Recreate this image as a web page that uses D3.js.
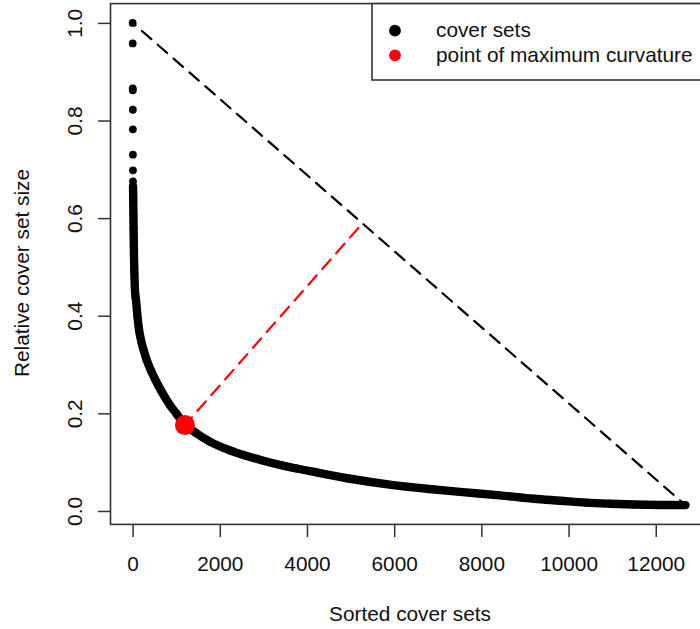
<!DOCTYPE html>
<html>
<head>
<meta charset="utf-8">
<script src="https://cdn.jsdelivr.net/npm/d3@7"></script>
<style>
  body { margin: 0; background: #fff; }
  text { font-family: "Liberation Sans", Arial, Helvetica, sans-serif; fill: #111; }
</style>
</head>
<body>
<svg id="chart"></svg>
<script>
// sorted cover sets (index) and their relative size
const coverIdx  = [1, 2, 3, 4, 5, 6, 7, 8, 9, 10, 14, 18, 22, 27, 32, 40, 50, 65, 80, 110, 150, 200, 245, 320, 420, 514, 650, 856, 1000, 1200, 1450, 1773, 2232, 2600, 2997, 3400, 3762, 4222, 4993, 5980, 6800, 7509, 8427, 9200, 9804, 10400, 10951, 11500, 12100, 12680];
const coverSize = [1.0, 0.958, 0.866, 0.862, 0.822, 0.782, 0.730, 0.698, 0.675, 0.665, 0.64, 0.61, 0.58, 0.55, 0.52, 0.49, 0.46, 0.44, 0.43, 0.40, 0.37, 0.347, 0.332, 0.31, 0.288, 0.27, 0.247, 0.217, 0.2, 0.177, 0.16, 0.142, 0.124, 0.113, 0.103, 0.094, 0.087, 0.079, 0.066, 0.053, 0.045, 0.039, 0.032, 0.025, 0.021, 0.017, 0.0148, 0.0132, 0.0123, 0.012];

// point of maximum curvature and foot of its perpendicular on the chord
const maxCurvIdx = 1200, maxCurvSize = 0.176;
const footIdx = 5230, footSize = 0.585;

const xTicks = [0, 2000, 4000, 6000, 8000, 10000, 12000];
const yTicks = [0, 0.2, 0.4, 0.6, 0.8, 1.0];
const legendLabels = ["cover sets", "point of maximum curvature"];
const legendColors = ["#000", "#ff0000"];

const width = 700, height = 629;
const fontSize = 20.8;

const svg = d3.select("#chart")
  .attr("width", width)
  .attr("height", height)
  .style("display", "block");

svg.append("rect").attr("width", width).attr("height", height).attr("fill", "#fff");

// R style 4% padding around the data range
const xPad = 0.04 * (d3.max(coverIdx) - 0);
const yPad = 0.04 * (d3.max(coverSize) - d3.min(coverSize));
const x = d3.scaleLinear()
  .domain([0 - xPad, d3.max(coverIdx) + xPad])
  .range([110.5, 707.5]);
const y = d3.scaleLinear()
  .domain([d3.min(coverSize) - yPad, d3.max(coverSize) + yPad])
  .range([524.4, 3.6]);

const pts = coverIdx.map((d, i) => ({ idx: d, size: coverSize[i] }));

// dense part of the curve: thick line underneath the dots
const line = d3.line()
  .x(d => x(d.idx))
  .y(d => y(d.size))
  .curve(d3.curveMonotoneX);

svg.append("path")
  .datum(pts.filter(d => d.idx >= 10))
  .attr("d", line)
  .attr("fill", "none")
  .attr("stroke", "#000")
  .attr("stroke-width", 8.4)
  .attr("stroke-linecap", "round")
  .attr("stroke-linejoin", "round");

svg.append("g")
  .selectAll("circle")
  .data(pts)
  .join("circle")
  .attr("cx", d => x(d.idx))
  .attr("cy", d => y(d.size))
  .attr("r", 3.9)
  .attr("fill", "#000");

// chord from first to last cover set
const first = pts[0], last = pts[pts.length - 1];
svg.append("line")
  .attr("x1", x(first.idx)).attr("y1", y(first.size))
  .attr("x2", x(last.idx)).attr("y2", y(last.size))
  .attr("stroke", "#000")
  .attr("stroke-width", 2.2)
  .attr("stroke-dasharray", "12.5,8.5")
  .attr("stroke-dashoffset", 8.7)
  .attr("stroke-linecap", "round");

// perpendicular from the knee to the chord
svg.append("line")
  .attr("x1", x(maxCurvIdx)).attr("y1", y(maxCurvSize))
  .attr("x2", x(footIdx)).attr("y2", y(footSize))
  .attr("stroke", "#ff0000")
  .attr("stroke-width", 2.2)
  .attr("stroke-dasharray", "12.5,8.5")
  .attr("stroke-dashoffset", 2)
  .attr("stroke-linecap", "round");

svg.append("circle")
  .attr("cx", x(maxCurvIdx))
  .attr("cy", y(maxCurvSize))
  .attr("r", 10)
  .attr("fill", "#ff0000");

// axes
const xAxis = svg.append("g")
  .attr("transform", `translate(0,${y.range()[0]})`)
  .attr("color", "#333")
  .call(d3.axisBottom(x).tickValues(xTicks).tickSize(12.7).tickSizeOuter(0).tickFormat(d3.format("d")));
xAxis.select(".domain").remove();
xAxis.selectAll(".tick line").attr("stroke-width", 1.5);
xAxis.selectAll("text")
  .attr("y", 46.2)
  .attr("dy", null)
  .attr("font-size", fontSize)
  .style("fill", "#111");

const yAxis = svg.append("g")
  .attr("transform", `translate(${x.range()[0]},0)`)
  .attr("color", "#333")
  .call(d3.axisLeft(y).tickValues(yTicks).tickSize(12.4).tickSizeOuter(0).tickFormat(d3.format(".1f")));
yAxis.select(".domain").remove();
yAxis.selectAll(".tick line").attr("stroke-width", 1.5);
yAxis.selectAll("text")
  .attr("x", null)
  .attr("dy", null)
  .attr("text-anchor", "middle")
  .attr("transform", "translate(-28.8,0) rotate(-90)")
  .attr("font-size", fontSize)
  .style("fill", "#111");

// plot box
svg.append("rect")
  .attr("x", x.range()[0])
  .attr("y", y.range()[1])
  .attr("width", x.range()[1] - x.range()[0])
  .attr("height", y.range()[0] - y.range()[1])
  .attr("fill", "none")
  .attr("stroke", "#333")
  .attr("stroke-width", 1.6);

// axis titles
svg.append("text")
  .attr("x", 410)
  .attr("y", 620.5)
  .attr("text-anchor", "middle")
  .attr("font-size", fontSize)
  .text("Sorted cover sets");

svg.append("text")
  .attr("transform", "translate(28.5,273) rotate(-90)")
  .attr("text-anchor", "middle")
  .attr("font-size", fontSize)
  .text("Relative cover set size");

// legend, top right
const legend = svg.append("g");
legend.append("rect")
  .attr("x", 372)
  .attr("y", y.range()[1])
  .attr("width", x.range()[1] - 372)
  .attr("height", 80 - y.range()[1])
  .attr("fill", "#fff")
  .attr("stroke", "#333")
  .attr("stroke-width", 1.6);

const items = legend.selectAll("g.item")
  .data(legendLabels)
  .join("g")
  .attr("class", "item")
  .attr("transform", (d, i) => `translate(395,${30.7 + i * 24.6})`);
items.append("circle")
  .attr("r", 5.9)
  .attr("fill", (d, i) => legendColors[i]);
items.append("text")
  .attr("x", 41)
  .attr("y", 6.4)
  .attr("font-size", fontSize)
  .text(d => d);
</script>
</body>
</html>
